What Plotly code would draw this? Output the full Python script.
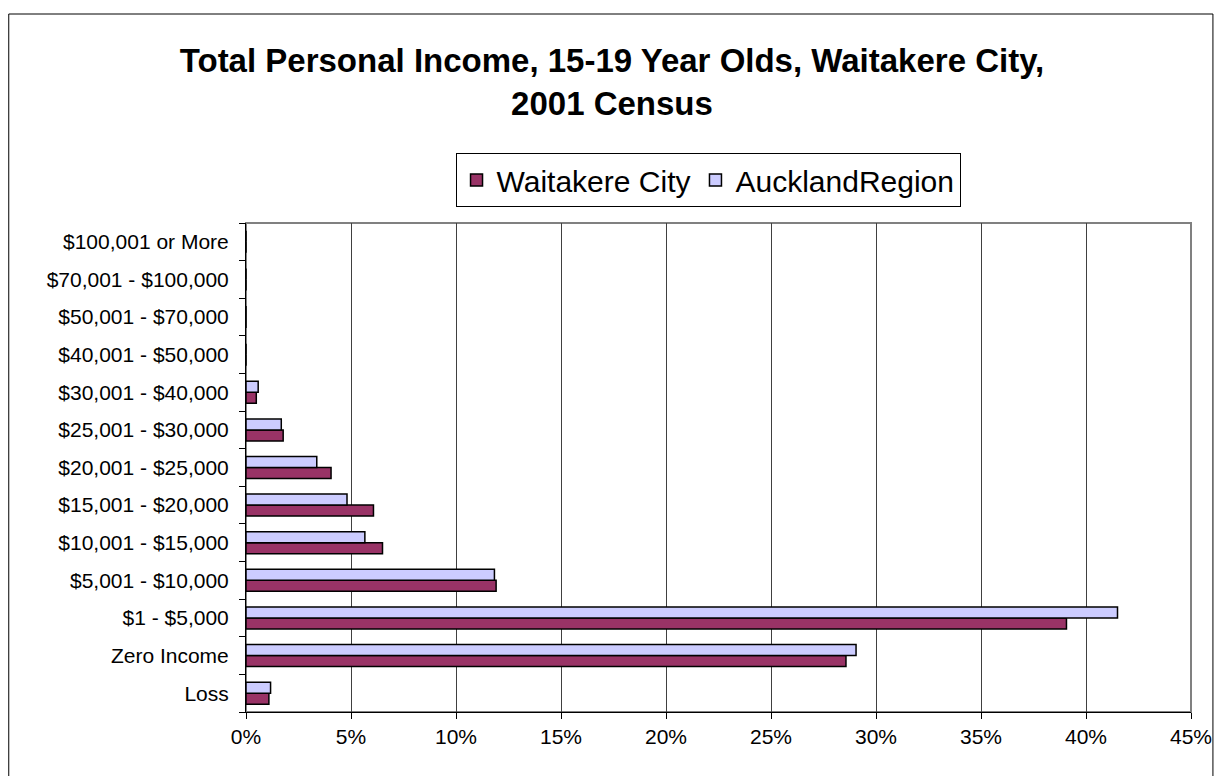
import plotly.graph_objects as go

categories = ["Loss", "Zero Income", "$1 - $5,000", "$5,001 - $10,000", "$10,001 - $15,000",
              "$15,001 - $20,000", "$20,001 - $25,000", "$25,001 - $30,000", "$30,001 - $40,000",
              "$40,001 - $50,000", "$50,001 - $70,000", "$70,001 - $100,000", "$100,001 or More"]
waitakere = [1.09, 28.57, 39.07, 11.91, 6.50, 6.07, 4.05, 1.77, 0.49, 0, 0, 0, 0]
auckland = [1.17, 29.05, 41.5, 11.83, 5.66, 4.81, 3.37, 1.68, 0.58, 0, 0, 0, 0]
x_ticks = [0, 5, 10, 15, 20, 25, 30, 35, 40, 45]
x_tick_labels = [f"{v}%" for v in x_ticks]

FONT = "Liberation Sans, Arial, sans-serif"

fig = go.Figure()
fig.add_trace(go.Bar(y=categories, x=waitakere, orientation="h", name="Waitakere City",
                     marker=dict(color="#993366", line=dict(color="black", width=1.5))))
fig.add_trace(go.Bar(y=categories, x=auckland, orientation="h", name="AucklandRegion",
                     marker=dict(color="#CCCCFF", line=dict(color="black", width=1.5))))

L, R, T, B = 246, 1194, 223, 712
W, H = 1224, 776
pw, ph = R - L, B - T

fig.update_layout(
    width=W, height=H,
    margin=dict(l=L, r=W - R, t=T, b=H - B, pad=0),
    paper_bgcolor="white", plot_bgcolor="white",
    barmode="group", bargap=0.415, bargroupgap=0,
    font=dict(family=FONT, size=21, color="black"),
    title=dict(text="<b>Total Personal Income, 15-19 Year Olds, Waitakere City,<br>2001 Census</b>",
               x=0.5, xanchor="center", y=1 - 72 / H, yanchor="top",
               font=dict(family=FONT, size=33, color="black")),
    legend=dict(orientation="h", x=(709.5 - L) / pw, xanchor="center",
                y=(B - 153) / ph, yanchor="top",
                bordercolor="black", borderwidth=1, bgcolor="white",
                font=dict(family=FONT, size=30, color="black"),
                traceorder="normal", itemwidth=30),
    showlegend=True,
    xaxis=dict(range=[0, 45], tickvals=x_ticks, ticktext=x_tick_labels,
               showgrid=True, gridcolor="#404040", gridwidth=1,
               showline=True, linecolor="black", linewidth=1,
               ticks="outside", ticklen=6, tickcolor="black",
               zeroline=False, fixedrange=True),
    yaxis=dict(categoryorder="array", categoryarray=categories,
               showgrid=False, showline=True, linecolor="black", linewidth=1,
               ticks="outside", ticklen=6, tickcolor="black", tickson="boundaries",
               ticklabelstandoff=12, fixedrange=True),
)

# plot area border (gray top/right)
fig.add_shape(type="rect", xref="paper", yref="paper", x0=0, x1=1, y0=0, y1=1,
              line=dict(color="#808080", width=2), layer="below")
# outer chart frame
fig.add_shape(type="rect", xref="paper", yref="paper",
              x0=(8 - L) / pw, x1=(1216 - L) / pw,
              y0=(B - 790) / ph, y1=(B - 14) / ph,
              line=dict(color="black", width=1))

fig.write_html("out.html", config={"displayModeBar": False},
               post_script="document.body.style.margin='0';document.body.style.overflow='hidden';")
